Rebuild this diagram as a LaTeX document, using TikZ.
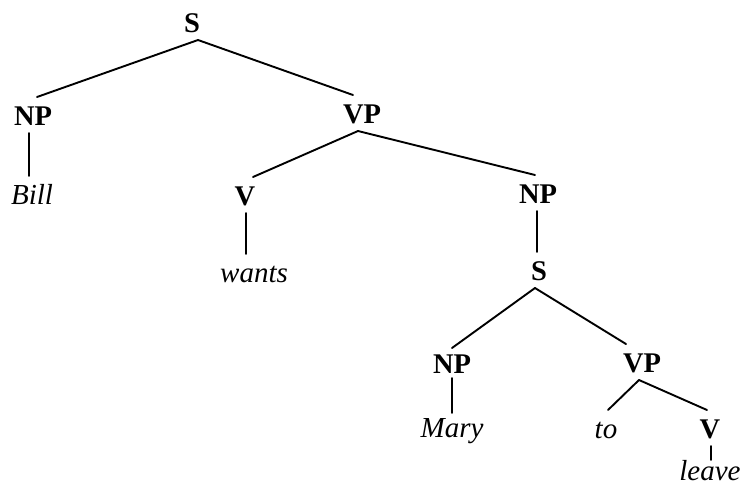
\documentclass[tikz,border=0pt]{standalone}
\usepackage{fontspec}
\setmainfont{Liberation Serif}
\begin{document}
\begin{tikzpicture}[x=1pt, y=-1pt,
  cat/.style={anchor=base, inner sep=0pt, outer xsep=0pt, outer ysep=8pt,
    text height=20pt, text depth=0pt, font=\fontsize{28.5}{34}\selectfont\bfseries},
  word/.style={cat, font=\fontsize{29}{34}\selectfont\itshape},
  branch/.style={line width=1.9pt, line cap=round}]
  \useasboundingbox (0,0) rectangle (744,485);

  % categories and words
  \node[cat] (s1) at (192,32) {S};
  \node[cat] (np1) at (33,125) {NP};
  \node[word] (bill) at (32,204) {Bill};
  \node[cat] (vp1) at (362,123) {VP};
  \node[cat] (v1) at (245,205) {V};
  \node[word] (wants) at (254,282) {wants};
  \node[cat] (np2) at (538,203) {NP};
  \node[cat] (s2) at (539,280) {S};
  \node[cat, outer ysep=5pt] (np3) at (452,373) {NP};
  \node[word, outer ysep=4pt] (mary) at (452,437) {Mary};
  \node[cat] (vp2) at (642,372) {VP};
  \node[word] (to) at (606,438) {to};
  \node[cat] (v2) at (710,438) {V};
  \node[word, outer ysep=0pt] (leave) at (710,480) {leave};

  % branches
  \draw[branch] ([xshift=6pt]s1.south) -- ([xshift=4pt]np1.north);
  \draw[branch] ([xshift=6pt]s1.south) -- ([xshift=-9pt]vp1.north);
  \draw[branch] ([xshift=-4pt]np1.south) -- ([xshift=-4pt]np1.south |- bill.north);
  \draw[branch] ([xshift=-4pt]vp1.south) -- ([xshift=8pt]v1.north);
  \draw[branch] ([xshift=-4pt]vp1.south) -- ([xshift=-3pt]np2.north);
  \draw[branch] ([xshift=1pt]v1.south) -- ([xshift=1pt]v1.south |- wants.north);
  \draw[branch] ([xshift=-1pt]np2.south) -- ([xshift=-1pt]np2.south |- s2.north);
  \draw[branch] ([xshift=-4pt]s2.south) -- (np3.north);
  \draw[branch] ([xshift=-4pt]s2.south) -- ([xshift=-16pt]vp2.north);
  \draw[branch] (np3.south) -- (np3.south |- mary.north);
  \draw[branch] ([xshift=-3pt]vp2.south) -- ([xshift=2pt]to.north);
  \draw[branch] ([xshift=-3pt]vp2.south) -- ([xshift=-3pt]v2.north);
  \draw[branch] ([xshift=1pt]v2.south) -- ([xshift=1pt]v2.south |- leave.north);
\end{tikzpicture}
\end{document}
